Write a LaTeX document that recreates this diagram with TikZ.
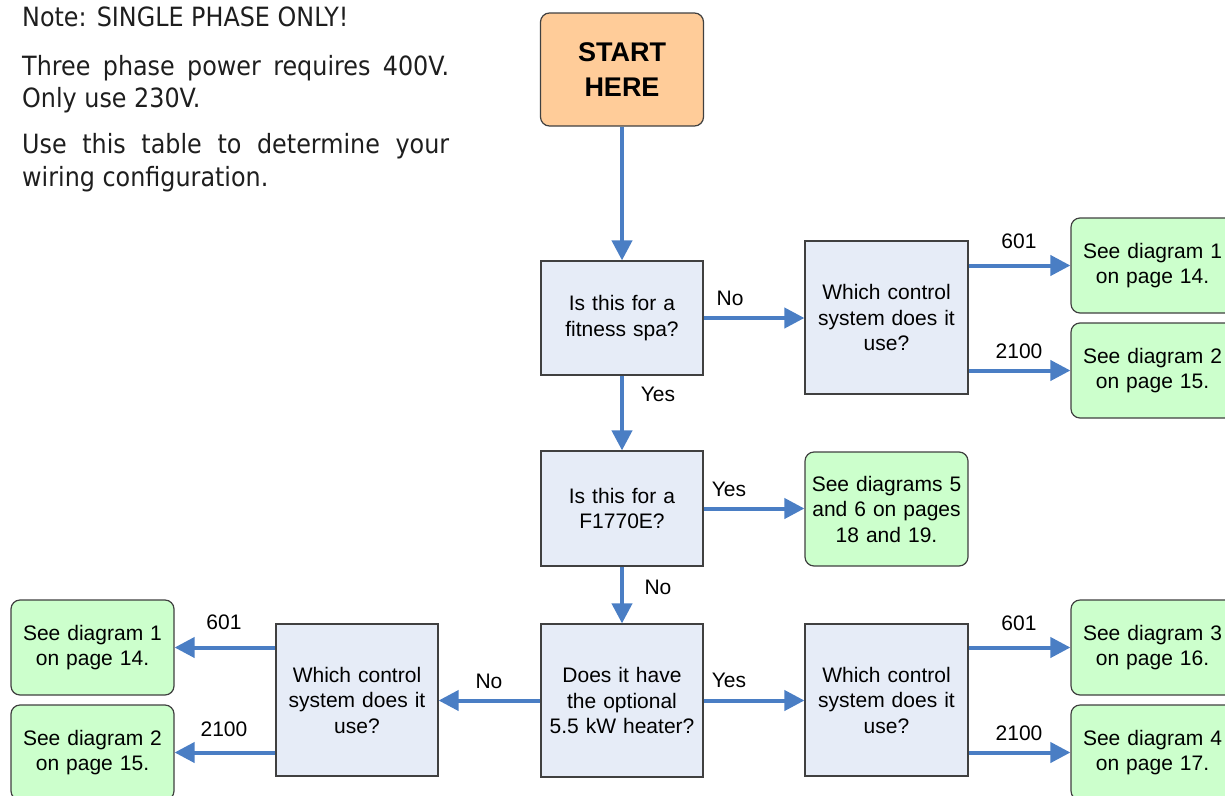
\documentclass[tikz,border=0pt]{standalone}
\usepackage{fontspec}
\setmainfont{Liberation Sans}
\newfontfamily\notefont[FakeStretch=0.9]{DejaVu Sans}
\usetikzlibrary{arrows.meta}
\definecolor{arrblue}{HTML}{4A7EC4}
\definecolor{qfill}{HTML}{E6ECF7}
\definecolor{gfill}{HTML}{CCFFCC}
\definecolor{ofill}{HTML}{FFCC99}
\definecolor{bord}{HTML}{404040}
\definecolor{notecol}{HTML}{1E1E1E}
\begin{document}
\begin{tikzpicture}[x=1pt,y=-1pt,
  qbox/.style={draw=bord, line width=1.2pt, fill=qfill, align=center, inner sep=0pt,
    font=\fontsize{21}{25.5}\selectfont, text width=156pt},
  gbox/.style={qbox, fill=gfill, rounded corners=9pt, minimum width=163pt, minimum height=95pt},
  startbox/.style={qbox, fill=ofill, rounded corners=9pt, font=\fontsize{27}{35}\selectfont\bfseries},
  lbl/.style={inner sep=0pt, font=\fontsize{21}{25}\selectfont},
  note/.style={inner sep=0pt, anchor=base west, text=notecol, font=\notefont\fontsize{26.5}{34}\selectfont},
  arr/.style={draw=arrblue, line width=4pt, -{Triangle[length=20pt,width=20pt]}}]
\useasboundingbox (0,0) rectangle (1225,795);

% note text
\node[note] (n1) at (22,26) {Note: SINGLE PHASE ONLY!};
\node[note] (n2) at (22,75) {\makebox[427pt][s]{Three phase power requires 400V.}};
\node[note] (n3) at (22,107) {Only use 230V.};
\node[note] (n4) at (22,153) {\makebox[427pt][s]{Use this table to determine your}};
\node[note] (n5) at (22,186) {wiring configuration.};

% boxes
\node[startbox, minimum width=163pt, minimum height=113pt] (start) at (622,69.5) {START\\HERE};
\node[qbox, minimum width=162pt, minimum height=114pt] (q1) at (622,318) {Is this for a\\fitness spa?};
\node[qbox, minimum width=163pt, minimum height=153pt] (ctl1) at (886.5,317.5) {Which control\\system does it\\use?};
\node[gbox] (g1) at (1152.5,265.5) {See diagram 1\\on page 14.};
\node[gbox] (g2) at (1152.5,370.5) {See diagram 2\\on page 15.};
\node[qbox, minimum width=162pt, minimum height=115pt] (q2) at (622,508.5) {Is this for a\\F1770E?};
\node[gbox, minimum height=114pt] (g5) at (886.5,509) {See diagrams 5\\and 6 on pages\\18 and 19.};
\node[qbox, minimum width=162pt, minimum height=153pt] (q3) at (622,700.5) {Does it have\\the optional\\5.5 kW heater?};
\node[qbox, minimum width=163pt, minimum height=152pt] (ctl2) at (886.5,700) {Which control\\system does it\\use?};
\node[gbox] (g3) at (1152.5,647.5) {See diagram 3\\on page 16.};
\node[gbox] (g4) at (1152.5,752.5) {See diagram 4\\on page 17.};
\node[qbox, minimum width=162pt, minimum height=152pt] (ctl3) at (357,700) {Which control\\system does it\\use?};
\node[gbox] (gl1) at (92.5,647.5) {See diagram 1\\on page 14.};
\node[gbox] (gl2) at (92.5,752.5) {See diagram 2\\on page 15.};

% connectors
\draw[arr] (start.south) -- (q1.north);
\draw[arr] (q1.east) -- (ctl1.west |- q1.east);
\draw[arr] (ctl1.east |- g1.west) -- (g1.west);
\draw[arr] (ctl1.east |- g2.west) -- (g2.west);
\draw[arr] (q1.south) -- (q2.north);
\draw[arr] (q2.east) -- (g5.west |- q2.east);
\draw[arr] (q2.south) -- (q3.north);
\draw[arr] (q3.east) -- (ctl2.west |- q3.east);
\draw[arr] (q3.west) -- (ctl3.east |- q3.west);
\draw[arr] (ctl2.east |- g3.west) -- (g3.west);
\draw[arr] (ctl2.east |- g4.west) -- (g4.west);
\draw[arr] (ctl3.west |- gl1.east) -- (gl1.east);
\draw[arr] (ctl3.west |- gl2.east) -- (gl2.east);

% labels
\node[lbl] (l1) at (730,298) {No};
\node[lbl] (l2) at (658,394) {Yes};
\node[lbl] (l3) at (729,489) {Yes};
\node[lbl] (l4) at (658,587) {No};
\node[lbl] (l5) at (729,680) {Yes};
\node[lbl] (l6) at (489,681) {No};
\node[lbl] (l7) at (1019,241) {601};
\node[lbl] (l8) at (1019,351) {2100};
\node[lbl] (l9) at (1019,623) {601};
\node[lbl] (l10) at (1019,733) {2100};
\node[lbl] (l11) at (224,622) {601};
\node[lbl] (l12) at (224,729) {2100};
\end{tikzpicture}
\end{document}
